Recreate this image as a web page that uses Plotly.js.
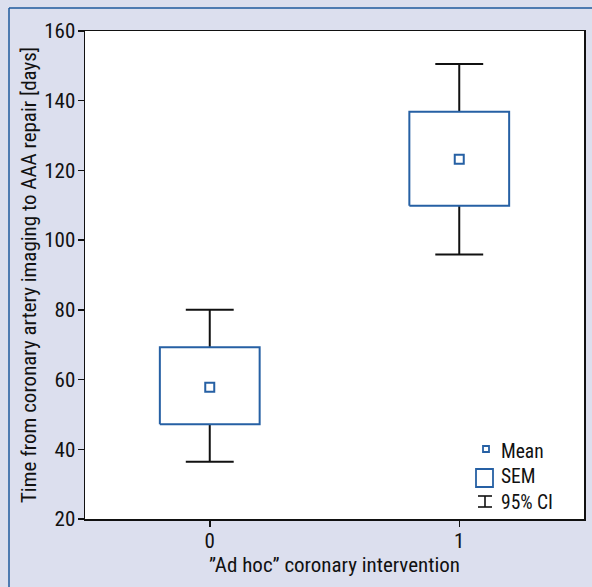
<!DOCTYPE html>
<html>
<head>
<meta charset="utf-8">
<script src="https://cdn.plot.ly/plotly-3.0.1.min.js"></script>
<style>html,body{margin:0;padding:0;background:#dcdfee;}</style>
</head>
<body>
<div id="chart" style="width:592px;height:587px;"></div>
<script>
var categories = [0, 1];
var tickLabels = ["0", "1"];
var means = [57.8, 123.2];
var semLow = [47.2, 109.9];
var semHigh = [69.3, 136.8];
var ciLow = [36.4, 95.9];
var ciHigh = [80.0, 150.5];
var legendLabels = ["Mean", "SEM", "95% CI"];

var FONT = '"Liberation Sans Narrow", "Roboto Condensed", "DejaVu Sans Condensed", Arial, sans-serif';
var BLUE = '#2660a4';
var boxHalf = 0.2;
var capHalf = 0.096;

var boxX = [], boxY = [], whX = [], whY = [];
categories.forEach(function (c, i) {
  boxX.push(c - boxHalf, c + boxHalf, c + boxHalf, c - boxHalf, c - boxHalf, null);
  boxY.push(semLow[i], semLow[i], semHigh[i], semHigh[i], semLow[i], null);
  whX.push(c, c, null, c, c, null, c - capHalf, c + capHalf, null, c - capHalf, c + capHalf, null);
  whY.push(semHigh[i], ciHigh[i], null, semLow[i], ciLow[i], null, ciHigh[i], ciHigh[i], null, ciLow[i], ciLow[i], null);
});

var traces = [
  {x: whX, y: whY, mode: 'lines', line: {color: '#111', width: 2}, hoverinfo: 'skip', showlegend: false},
  {x: boxX, y: boxY, mode: 'lines', line: {color: BLUE, width: 2}, hoverinfo: 'skip', showlegend: false},
  {x: categories, y: means, mode: 'markers', marker: {symbol: 'square-open', size: 9, color: BLUE, line: {width: 2, color: BLUE}}, showlegend: false}
];

var L = 85, R = 584, T = 31, B = 519;
function px(X) { return (X - L) / (R - L); }
function py(Y) { return (B - Y) / (B - T); }

var shapes = [
  // outer frame (left and top edges visible)
  {type: 'line', xref: 'paper', yref: 'paper', x0: px(9), x1: px(9), y0: py(900), y1: py(8),
   line: {color: '#1f5a9c', width: 1.5}, layer: 'below'},
  {type: 'line', xref: 'paper', yref: 'paper', x0: px(9), x1: px(900), y0: py(8), y1: py(8),
   line: {color: '#1f5a9c', width: 1.5}, layer: 'below'},
  // legend glyphs
  {type: 'rect', xref: 'paper', yref: 'paper', x0: px(483), x1: px(489), y0: py(452), y1: py(446),
   line: {color: BLUE, width: 1.8}},
  {type: 'rect', xref: 'paper', yref: 'paper', x0: px(476), x1: px(493), y0: py(487), y1: py(469),
   line: {color: BLUE, width: 1.8}},
  {type: 'line', xref: 'paper', yref: 'paper', x0: px(485), x1: px(485), y0: py(507), y1: py(496),
   line: {color: '#111', width: 1.6}},
  {type: 'line', xref: 'paper', yref: 'paper', x0: px(478), x1: px(492), y0: py(496), y1: py(496),
   line: {color: '#111', width: 1.6}},
  {type: 'line', xref: 'paper', yref: 'paper', x0: px(478), x1: px(492), y0: py(507), y1: py(507),
   line: {color: '#111', width: 1.6}}
];

var legY = [451, 476, 502];
var annotations = legendLabels.map(function (t, i) {
  return {text: t, xref: 'paper', yref: 'paper', x: px(499), y: py(legY[i]), xanchor: 'left', yanchor: 'middle',
          showarrow: false, font: {family: FONT, size: 19.5, color: '#111'}};
});

var layout = {
  width: 592, height: 587,
  paper_bgcolor: '#dcdfee', plot_bgcolor: '#ffffff',
  margin: {l: L, r: 592 - R, t: T, b: 587 - B},
  font: {family: FONT, size: 18, color: '#111'},
  showlegend: false,
  xaxis: {
    range: [-0.5, 1.5], tickvals: categories, ticktext: tickLabels,
    showline: true, mirror: true, linecolor: '#111', linewidth: 1.5,
    ticks: 'outside', ticklen: 6, tickcolor: '#111', tickwidth: 1.5, ticklabelstandoff: -4,
    showgrid: false, zeroline: false, tickfont: {family: FONT, size: 21},
    title: {text: '”Ad hoc” coronary intervention', font: {family: FONT, size: 21}, standoff: 1}
  },
  yaxis: {
    range: [20, 160], tickvals: [20, 40, 60, 80, 100, 120, 140, 160],
    showline: true, mirror: true, linecolor: '#111', linewidth: 1.5,
    ticks: 'outside', ticklen: 6, tickcolor: '#111', tickwidth: 1.5, ticklabelstandoff: -2,
    showgrid: false, zeroline: false, tickfont: {family: FONT, size: 21},
    title: {text: 'Time from coronary artery imaging to AAA repair [days]', font: {family: FONT, size: 21}, standoff: 2}
  },
  shapes: shapes,
  annotations: annotations
};

Plotly.newPlot('chart', traces, layout, {displayModeBar: false, staticPlot: true});
</script>
</body>
</html>
